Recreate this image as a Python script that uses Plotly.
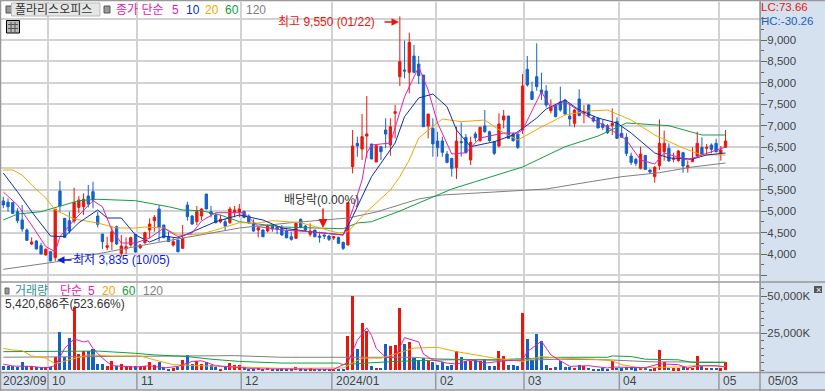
import plotly.graph_objects as go

W, H = 825, 391
opens = [5240,5210,5200,4990,4795,4560,4235,4304,4195,3977,4055,3915,5470,4834,4780,4772,5090,5106,5356,5457,
4888,4468,4156,4290,4640,4016,4117,4211,4460,4149,4266,4561,4779,5052,4678,4405,4211,4328,4133,5145,4888,4756,
4888,5402,4990,4912,4756,4756,4733,4974,4974,5000,4888,4701,4561,4561,4538,4678,4624,4600,4538,4405,4367,4810,
4655,4460,4561,4421,4445,4421,4375,4390,4273,4211,6041,6586,6454,6757,6571,6150,6508,6898,6547,7287,8143,8299,
8244,8626,8439,8182,6991,6936,6640,6640,6337,6236,6018,6625,6726,6196,6804,6648,6991,6858,6625,6524,7131,7224,
6804,6804,6897,8315,7793,8143,7832,7809,7349,7458,7552,7598,7224,7053,7622,7287,7481,7185,7170,7037,6998,7000,
7092,6819,6726,6290,6212,6002,6306,5963,5807,6064,6391,6469,6212,6181,6368,6018,6158,6290,6493,6469,6547,6586,
6352,6493]
highs = [5340,5300,5220,5070,5145,4600,4390,4330,4265,4133,4055,5045,5706,4834,4990,5550,5355,5418,5613,5690,
4990,4468,4405,4640,4663,4445,4390,4405,4460,4234,4522,4834,4912,5145,4678,4522,4390,4328,4678,5223,4912,5122,
5066,5402,5122,4935,4912,4834,5106,5122,5168,5000,4927,4810,4624,4577,4693,4701,4640,4678,4577,4522,4717,4834,
4678,4717,4561,4522,4460,4445,4421,4405,4289,5200,6898,6742,7271,7692,6571,6532,6508,7170,7170,7482,9550,8984,
9171,8883,8626,8182,7271,7170,6858,6742,6407,6236,6975,7076,6804,6742,6858,6975,7365,6882,6625,7287,7365,7224,
6835,6804,8205,8626,8027,8922,8237,7949,7614,7481,7910,7614,7505,7380,7848,7481,7505,7224,7193,7131,7037,7404,
7193,6975,6819,6368,6251,6508,6306,5978,6056,7146,6882,6586,6368,6430,6391,6173,6493,6858,6726,6570,6586,6695,
6524,6897]
lows = [5070,4990,4950,4720,4520,4305,4210,4110,4000,3970,3860,3835,4990,4390,4480,4717,4950,4912,5090,5068,
4624,4118,4094,4094,4211,3938,4000,4172,4032,4117,4234,4367,4522,4289,4367,4289,4172,4040,4117,4779,4678,4678,
4795,5052,4857,4717,4717,4561,4702,4857,4857,4834,4701,4522,4390,4390,4507,4522,4468,4429,4367,4312,4351,4600,
4538,4405,4390,4265,4351,4304,4328,4250,4094,4211,5885,6274,6196,6235,6220,6150,6196,6470,6298,6700,7925,8105,
7754,8221,7972,6975,6703,6274,6274,6274,6119,5807,5753,6274,6352,6080,6625,6625,6835,6625,6313,6493,6936,6703,
6625,6454,6804,7910,7598,7816,7598,7427,7287,7193,7326,7255,6991,6960,7224,7053,7193,7076,6944,6897,6804,6780,
6687,6726,6290,6080,6056,5978,5963,5870,5667,5963,6181,6158,6142,6158,5900,5900,6158,6275,6313,6313,6352,6376,
6181,6493]
closes = [5145,5105,4950,4780,4585,4320,4281,4118,4000,4110,3837,5045,5122,4390,4538,5208,5262,5278,5170,5262,
4694,4290,4195,4522,4234,4188,4172,4382,4047,4211,4499,4701,4857,4616,4382,4289,4289,4055,4367,4873,4701,4990,
5052,5052,4935,4733,4810,4655,5052,5028,5052,4857,4740,4538,4616,4405,4663,4585,4577,4445,4382,4343,4717,4624,
4561,4538,4405,4390,4421,4343,4405,4250,4133,5200,6524,6524,6742,6804,6220,6532,6391,6804,6975,7326,8494,8275,
8945,8244,8167,6975,7271,6570,6484,6376,6142,6002,6640,6602,6368,6609,6718,6960,6858,6648,6352,7037,7224,6703,
6648,6492,7926,7949,7614,7910,7777,7481,7411,7209,7365,7271,7154,7365,7232,7318,7224,7108,6944,6960,6835,7053,
6703,6726,6352,6142,6119,6337,5978,5916,6025,6586,6586,6173,6236,6407,6056,6064,6236,6586,6329,6493,6446,6391,
6430,6641]
volumes = [3094,3094,2650,2210,5750,2650,2650,2000,2000,2400,2200,8840,25600,8840,21900,42800,11000,13000,13300,14100,
4400,4400,2650,6000,2650,4400,2650,2650,3100,2200,3100,5300,3500,5750,2000,1100,1300,2200,7070,10200,4000,6400,
4400,5500,3300,2000,1100,2200,4600,3300,3300,2200,1100,900,1500,900,1800,900,660,1300,1100,1100,2400,1300,
1100,1300,1100,1100,900,900,660,660,900,23000,50500,14400,32200,26300,2650,1770,1770,17700,16400,17000,42300,17700,
19000,8200,7100,8400,6400,5750,3800,5300,3100,3500,13000,9000,6000,6600,7100,6200,7700,2650,2650,13000,9700,3800,
3300,2650,39000,21000,7100,24300,19700,3800,1770,2400,6400,2400,2400,1770,3500,2650,1770,1100,1100,1300,900,6400,
1770,1300,2200,2400,1300,1500,1500,1100,1300,13700,5300,1770,1300,1300,2000,1500,1500,9700,2650,1770,1770,1770,
1300,5421]

ma5_i = [0,3,6,9,11,12,15,19,21,23,25,28,31,34,37,40,42,45,51,54,59,65,72,74,76,77,78,82,85,88,90,92,95,98,101,106,109,110,114,116,119,124,128,132,135,138,140,145,148,153]
ma5_v = [5449,5146,4678,4172,4054,4405,4795,5246,5106,4562,4258,4258,4375,4608,4405,4491,4772,4966,4966,4639,4562,4522,4445,5028,5729,6360,6547,6594,7675,8369,7832,7061,6337,6367,6711,6827,6827,6897,7792,7412,7559,7201,6968,6664,6197,6104,6360,6197,6314,6500]
ma10_i = [0,3,6,10,13,16,20,22,25,28,31,34,37,42,45,50,55,59,65,72,74,78,83,85,88,91,94,96,99,104,108,111,113,115,119,122,126,130,133,138,141,146,149,153]
ma10_v = [5893,5456,4989,4421,4405,4732,5029,4842,4842,4445,4281,4421,4375,4608,4756,4912,4795,4608,4522,4445,4872,5807,6594,7208,7645,7739,7442,6898,6508,6624,6781,7014,7178,7388,7598,7365,7178,7061,6827,6360,6244,6220,6314,6360]
ma20_i = [0,2,4,6,9,11,15,20,24,28,30,34,37,42,45,50,54,57,63,66,71,73,77,82,84,86,88,93,97,102,106,109,114,119,124,128,133,138,144,148,153]
ma20_v = [5963,5963,5846,5613,5309,5029,4819,4725,4608,4608,4632,4608,4445,4468,4562,4732,4725,4779,4732,4639,4491,4522,4989,5496,5807,6197,6711,7155,7092,7131,6827,6664,6968,7248,7341,7365,7131,6781,6477,6314,6314]
ma60_i = [0,3,8,16,20,28,35,38,42,46,50,59,66,72,75,78,84,90,95,100,107,110,119,126,132,141,148,153]
ma60_v = [4795,4935,4989,5246,5279,5246,5106,5029,5012,4912,4756,4632,4608,4592,4725,4756,5005,5286,5519,5690,5923,6033,6507,6757,7061,6998,6781,6781]
ma120_i = [0,11,29,42,50,61,73,79,84,88,93,103,110,115,124,131,139,146,153]
ma120_v = [3643,3814,4195,4445,4608,4732,4842,4982,5146,5286,5379,5449,5496,5519,5683,5807,5900,6033,6127]

vma5_i = [0,2,6,9,11,12,13,15,17,18,19,21,23,28,31,34,37,40,42,45,49,54,59,70,73,75,77,78,79,81,83,85,88,89,91,94,96,99,102,107,110,111,114,116,118,120,124,128,129,136,139,143,145,147,151,153]
vma5_v = [4200,2870,2650,1550,3100,8840,14800,21200,19200,19900,14800,8200,3100,2200,3100,1550,2650,6000,6400,3100,2200,900,900,660,5300,20300,28700,23600,14800,8800,8800,22100,19200,11000,7000,4900,4200,7000,4900,6600,7000,12600,19700,10400,6400,2650,3100,1550,2200,1770,4400,3800,1550,3100,3100,2200]
vma20_i = [0,2,4,6,9,11,14,18,23,29,32,36,42,49,59,69,72,76,80,83,87,92,96,99,104,110,114,118,125,129,131,135,138,143,146,153]
vma20_v = [14800,13700,13300,9700,8200,4400,7100,10400,9700,9700,7100,3800,3100,2200,1300,1550,1550,8200,8200,11000,15000,15500,12600,11000,8200,6000,9300,8200,7500,6400,3800,1550,2000,2200,3100,2650]
vma60_i = [0,13,20,28,32,39,44,50,59,71,72,77,83,94,104,118,128,129,133,136,143,146,153]
vma60_v = [12600,13000,13000,11500,10400,9300,7500,6000,4900,4900,3800,4900,6000,7100,7100,8800,8800,9700,9300,7500,7100,5300,5300]
vma120_i = [0,49,59,72,78,87,92,108,118,128,137,153]
vma120_v = [8840,9900,8800,8800,9300,8800,7700,6600,7500,7100,5750,5500]

month_pos = [9.47,28.3,50.4,69.6,91.6,110.3,130.5,151.6]
month_labels = ["10","11","12","2024/01","02","03","04","05"]
price_ticks = [3500,4000,4500,5000,5500,6000,6500,7000,7500,8000,8500,9000,9500]
price_labels = ["","4,000","4,500","5,000","5,500","6,000","6,500","7,000","7,500","8,000","8,500","9,000",""]
vol_ticks = [25000,50000]
vol_labels = ["25,000K","50,000K"]

RED, BLUE = "#e8170c", "#1560c8"
MAG, NAVY, ORG, GRN, GRY = "#e020b0", "#0a2fb0", "#f0a800", "#10a040", "#808080"
FONT = "Liberation Sans, Noto Sans CJK KR"
STRIP = "#d6e1ef"; FRAME = "#999999"; GRID = "#d2d2d2"; INK = "#444444"

def px(x): return x / W
def py(y): return 1 - y / H

idx = list(range(len(closes)))
fig = go.Figure()
fig.add_trace(go.Candlestick(x=idx, open=opens, high=highs, low=lows, close=closes,
    increasing=dict(line=dict(color=RED, width=1), fillcolor=RED),
    decreasing=dict(line=dict(color=BLUE, width=1), fillcolor=BLUE),
    whiskerwidth=0, xaxis="x", yaxis="y", hoverinfo="skip"))
for xs, ys, c in [(ma120_i, ma120_v, GRY), (ma60_i, ma60_v, GRN), (ma20_i, ma20_v, ORG), (ma10_i, ma10_v, NAVY), (ma5_i, ma5_v, MAG)]:
    fig.add_trace(go.Scatter(x=xs, y=ys, mode="lines", line=dict(color=c, width=1), xaxis="x", yaxis="y", hoverinfo="skip"))
bar_colors = [RED if c >= o else BLUE for o, c in zip(opens, closes)]
fig.add_trace(go.Bar(x=idx, y=volumes, marker=dict(color=bar_colors, line=dict(width=0)), width=0.64, xaxis="x2", yaxis="y2", hoverinfo="skip"))
for xs, ys, c in [(vma120_i, vma120_v, GRY), (vma60_i, vma60_v, GRN), (vma20_i, vma20_v, ORG), (vma5_i, vma5_v, MAG)]:
    fig.add_trace(go.Scatter(x=xs, y=ys, mode="lines", line=dict(color=c, width=1), xaxis="x2", yaxis="y2", hoverinfo="skip"))

xcommon = dict(range=[-0.7, 160.3], domain=[0, 760 / W], tickvals=month_pos, showticklabels=False,
               showgrid=True, gridcolor=GRID, gridwidth=1.5, zeroline=False, rangeslider=dict(visible=False), ticks="", showline=False)
yfont = dict(family=FONT, size=11.5, color=INK)
fig.update_layout(
    width=W, height=H, margin=dict(l=0, r=0, t=0, b=0), showlegend=False,
    paper_bgcolor="white", plot_bgcolor="white", bargap=0,
    xaxis=dict(anchor="y", **xcommon),
    xaxis2=dict(anchor="y2", **xcommon),
    yaxis=dict(domain=[py(281), py(2)], range=[9934.4 - 23.36 * 281, 9934.4 - 23.36 * 2], side="right", anchor="x",
               tickvals=price_ticks, ticktext=price_labels, tickfont=yfont, ticks="outside", ticklen=6, tickcolor="#666666", ticklabelstandoff=-2,
               showgrid=True, gridcolor=GRID, gridwidth=1.5, zeroline=False, showline=True, linecolor=FRAME,
               minor=dict(tickvals=[p + 250 for p in price_ticks[:-1]] , ticks="outside", ticklen=3, tickcolor="#666666", showgrid=False)),
    yaxis2=dict(domain=[py(372), py(283)], range=[-1150, 59015], side="right", anchor="x2",
                tickvals=vol_ticks, ticktext=vol_labels, tickfont=yfont, ticks="outside", ticklen=6, tickcolor="#666666", ticklabelstandoff=-2,
                showgrid=True, gridcolor=GRID, gridwidth=1.5, zeroline=False, showline=True, linecolor=FRAME,
                minor=dict(dtick=5000, ticks="outside", ticklen=3, tickcolor="#666666", showgrid=False)),
)

def rect(x0, y0, x1, y1, fill="rgba(0,0,0,0)", line=None, lw=1, layer="above"):
    fig.add_shape(type="rect", xref="paper", yref="paper", x0=px(x0), x1=px(x1), y0=py(y0), y1=py(y1),
                  fillcolor=fill, line=dict(color=line or fill, width=lw if line else 0), layer=layer)
def hline(x0, x1, y, color=FRAME, lw=1.5):
    fig.add_shape(type="line", xref="paper", yref="paper", x0=px(x0), x1=px(x1), y0=py(y), y1=py(y), line=dict(color=color, width=lw))
def vline(x, y0, y1, color=FRAME, lw=1.5):
    fig.add_shape(type="line", xref="paper", yref="paper", x0=px(x), x1=px(x), y0=py(y0), y1=py(y1), line=dict(color=color, width=lw))
def note(text, x, y, color=INK, size=12, anchor="left"):
    fig.add_annotation(text=text, xref="paper", yref="paper", x=px(x), y=py(y), xanchor=anchor, yanchor="middle",
                       showarrow=False, font=dict(family=FONT, size=size, color=color), borderpad=0, borderwidth=0)

# strips and frame
rect(760, 0, W, H, fill=STRIP, layer="below")
rect(0, 372, W, 390, fill=STRIP, layer="below")
hline(0, W, 0.5); vline(0.5, 0, 391); hline(0, W, 282); hline(0, W, 372.5); hline(0, W, 390); vline(760, 0, 391)
for m in month_pos:
    fig.add_shape(type="line", xref="x", yref="paper", x0=m, x1=m, y0=py(372), y1=py(390), line=dict(color=FRAME, width=1.5))

# header
rect(6, 6, 12, 13, fill="#999999", line="#555555")
rect(11.5, 3, 100, 16, fill="#e6e6e6", line="#bbbbbb")
note("폴라리스오피스", 15, 9.5, "#333333", 12)
rect(104, 6, 110, 13, fill="#999999", line="#555555")
note("종가 단순", 116, 9.5, MAG, 12)
note("5", 172, 9.5, MAG, 12)
note("10", 186, 9.5, NAVY, 12)
note("20", 205, 9.5, ORG, 12)
note("60", 225, 9.5, GRN, 12)
note("120", 246, 9.5, GRY, 12)
rect(6.5, 20.5, 19.5, 33, fill="#b8b8b8", line="#000000")
hline(8, 18, 24.5, "#555555", 1); hline(8, 18, 28.5, "#555555", 1); vline(11, 22, 32, "#555555", 1); vline(15, 22, 32, "#555555", 1)
note("LC:73.66", 761, 6.5, RED, 11.5)
note("HC:-30.26", 761, 21, BLUE, 11.5)

# volume header
rect(5, 288, 9, 294, fill="#999999", line="#666666")
note("거래량", 15, 291, "#2f9090", 12)
note("단순", 60, 291, MAG, 12)
note("5", 88, 291, MAG, 12)
note("20", 102, 291, ORG, 12)
note("60", 122, 291, GRN, 12)
note("120", 143, 291, GRY, 12)
note("5,420,686주(523.66%)", 5, 304, "#333333", 12)
rect(814, 286, 822, 293, fill="#555555")
note("×", 818, 289.5, "white", 9, "center")

# date strip
note("2023/09", 3, 381, INK, 12)
for m, t in zip(month_pos, month_labels):
    fig.add_annotation(text=t, xref="x", yref="paper", x=m, y=py(381), xanchor="left", yanchor="middle", xshift=2,
                       showarrow=False, font=dict(family=FONT, size=12, color=INK))
note("05/03", 768, 381, INK, 12)

# event marks
note("최고 9,550 (01/22)", 278, 22, RED, 12)
fig.add_annotation(x=px(399), y=py(22), xref="paper", yref="paper", axref="pixel", ayref="pixel", ax=-16, ay=0, text="", showarrow=True,
                   arrowhead=2, arrowsize=1, arrowwidth=1.5, arrowcolor=RED)
note("최저 3,835 (10/05)", 73, 259.5, "#0a20e0", 12)
fig.add_annotation(x=px(57), y=py(260), xref="paper", yref="paper", axref="pixel", ayref="pixel", ax=16, ay=0, text="", showarrow=True,
                   arrowhead=2, arrowsize=1, arrowwidth=1.5, arrowcolor="#0a20e0")
note("배당락(0.00%)", 284, 200, "#333333", 12)
fig.add_annotation(x=px(323), y=py(228), xref="paper", yref="paper", axref="pixel", ayref="pixel", ax=0, ay=-21, text="", showarrow=True,
                   arrowhead=2, arrowsize=1.2, arrowwidth=1.5, arrowcolor=RED)

fig.write_html("out.html", config=dict(displayModeBar=False), post_script="document.body.style.margin='0';document.body.style.overflow='hidden';")
